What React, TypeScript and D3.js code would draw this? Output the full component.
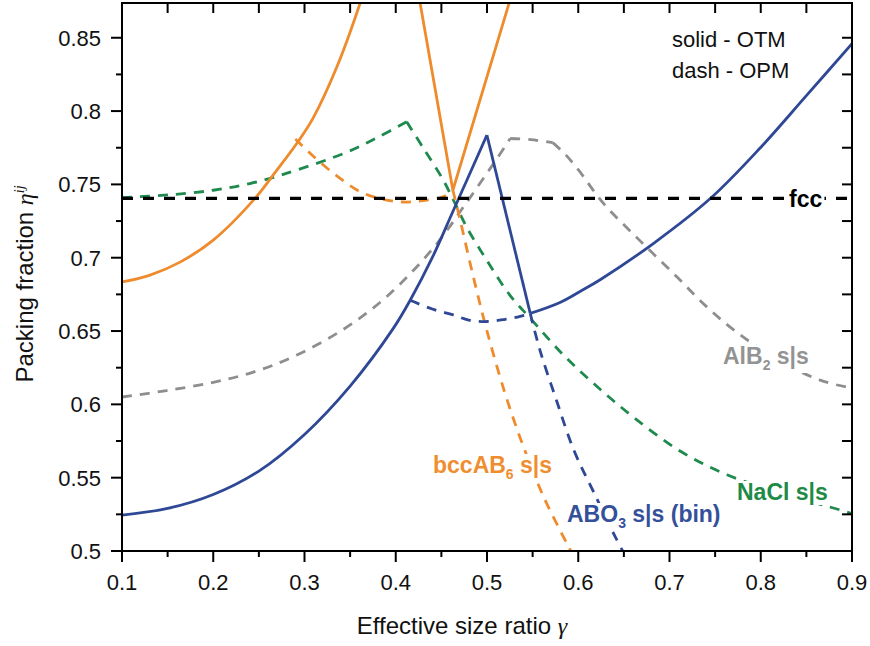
import { useEffect, useRef } from "react";
import * as d3 from "d3";

type Pt = [number, number];

const xMajor = [0.1, 0.2, 0.3, 0.4, 0.5, 0.6, 0.7, 0.8, 0.9];
const yMajor = [0.5, 0.55, 0.6, 0.65, 0.7, 0.75, 0.8, 0.85];
const fccPacking = 0.7405;

// bccAB6 s|s (orange)
const bccOtmLeft: Pt[] = [
  [0.1, 0.6835], [0.13, 0.688], [0.1636, 0.697], [0.2, 0.712],
  [0.2458, 0.7405], [0.2697, 0.7597], [0.295, 0.781], [0.3097, 0.7955],
  [0.3354, 0.83], [0.361, 0.8737], [0.37, 0.892],
];
const bccOtmCusp: Pt[] = [[0.4232, 0.886], [0.4626, 0.746], [0.5302, 0.886]];
const bccOpmLoop: Pt[] = [
  [0.29, 0.781], [0.31, 0.769], [0.335, 0.756], [0.361, 0.745], [0.385, 0.74],
  [0.408, 0.738], [0.43, 0.739], [0.452, 0.7415], [0.4626, 0.746],
];
const bccOpmTail: Pt[] = [
  [0.4626, 0.746], [0.4706, 0.7256], [0.485, 0.687], [0.5, 0.65], [0.52, 0.607],
  [0.54, 0.571], [0.562, 0.537], [0.5876, 0.505], [0.6, 0.49],
];

// NaCl s|s (green)
const naclOpmRise: Pt[] = [
  [0.1, 0.741], [0.15, 0.7428], [0.2, 0.746], [0.24, 0.7506], [0.28, 0.7575],
  [0.3465, 0.772], [0.38, 0.782], [0.412, 0.7927],
];
const naclOpmFall: Pt[] = [
  [0.412, 0.7927], [0.43, 0.775], [0.452, 0.753], [0.465, 0.737], [0.478, 0.7205],
  [0.5, 0.698], [0.525, 0.6745], [0.547, 0.659], [0.584, 0.6335], [0.62, 0.6125],
  [0.66, 0.5915], [0.712, 0.568], [0.763, 0.552], [0.82, 0.54], [0.887, 0.528], [0.9, 0.5255],
];

// AlB2 s|s (grey)
const alb2OpmRise: Pt[] = [
  [0.1, 0.605], [0.149, 0.6094], [0.2, 0.615], [0.2439, 0.622], [0.2878, 0.6325],
  [0.3427, 0.6512], [0.39, 0.6734], [0.4414, 0.7068], [0.478, 0.738], [0.511, 0.7677],
  [0.5254, 0.7813],
];
const alb2OpmTop: Pt[] = [[0.5254, 0.7813], [0.548, 0.7805], [0.572, 0.7785]];
const alb2OpmFall: Pt[] = [
  [0.572, 0.7785], [0.585, 0.771], [0.6004, 0.7597], [0.6277, 0.737], [0.667, 0.712],
  [0.708, 0.687], [0.74, 0.667], [0.774, 0.649], [0.82, 0.63], [0.865, 0.6165], [0.9, 0.611],
];

// ABO3 s|s (bin) (blue)
const abo3OtmRise: Pt[] = [
  [0.1, 0.5245], [0.15, 0.529], [0.2, 0.5385], [0.25, 0.5545], [0.3, 0.5795],
  [0.35, 0.6125], [0.3975, 0.652], [0.4158, 0.671], [0.44, 0.7], [0.463, 0.732], [0.4999, 0.7836],
];
const abo3OtmDrop: Pt[] = [[0.4999, 0.7836], [0.5474, 0.662]];
const abo3OtmRight: Pt[] = [
  [0.5474, 0.662], [0.58, 0.6695], [0.602, 0.677], [0.624, 0.685], [0.683, 0.71],
  [0.745, 0.7405], [0.7996, 0.775], [0.85, 0.8105], [0.9, 0.846],
];
const abo3OpmBowl: Pt[] = [
  [0.4158, 0.671], [0.44, 0.665], [0.463, 0.661], [0.48, 0.6575], [0.5, 0.6565],
  [0.52, 0.658], [0.5364, 0.66], [0.5474, 0.662],
];
const abo3OpmTail: Pt[] = [
  [0.5474, 0.662], [0.558, 0.637], [0.576, 0.603], [0.595, 0.569], [0.6168, 0.5403],
  [0.6406, 0.5096], [0.66, 0.487],
];

const ORANGE = "#ee8b2c";
const GREEN = "#1f8a4e";
const GREY = "#8e8e8e";
const BLUE = "#2f4896";

export default function App() {
  const svgRef = useRef<SVGSVGElement>(null);

  useEffect(() => {
    if (!svgRef.current) return;
    const svg = d3.select(svgRef.current);
    svg.selectAll("*").remove();

    const width = 870;
    const height = 646;
    const left = 122, right = 852, top = 3, bottom = 551;

    const x = d3.scaleLinear().domain([0.1, 0.9]).range([left, right]);
    const y = d3.scaleLinear().domain([0.5, 0.8737]).range([bottom, top]);

    svg.append("rect").attr("width", width).attr("height", height).style("fill", "#fff");

    svg.append("defs").append("clipPath").attr("id", "plot-clip")
      .append("rect")
      .attr("x", left).attr("y", top)
      .attr("width", right - left).attr("height", bottom - top);

    const plot = svg.append("g").attr("clip-path", "url(#plot-clip)");

    const smooth = d3.line<Pt>().x(d => x(d[0])).y(d => y(d[1])).curve(d3.curveCatmullRom.alpha(0.5));
    const straight = d3.line<Pt>().x(d => x(d[0])).y(d => y(d[1]));

    const series = [
      { data: alb2OpmRise, color: GREY, dash: true },
      { data: alb2OpmTop, color: GREY, dash: true },
      { data: alb2OpmFall, color: GREY, dash: true },
      { data: naclOpmRise, color: GREEN, dash: true },
      { data: naclOpmFall, color: GREEN, dash: true },
      { data: bccOpmLoop, color: ORANGE, dash: true },
      { data: bccOpmTail, color: ORANGE, dash: true },
      { data: abo3OpmBowl, color: BLUE, dash: true },
      { data: abo3OpmTail, color: BLUE, dash: true },
      { data: bccOtmLeft, color: ORANGE, dash: false },
      { data: bccOtmCusp, color: ORANGE, dash: false, linear: true },
      { data: abo3OtmRise, color: BLUE, dash: false },
      { data: abo3OtmDrop, color: BLUE, dash: false, linear: true },
      { data: abo3OtmRight, color: BLUE, dash: false },
    ];

    series.forEach(s => {
      plot.append("path")
        .attr("d", (s as any).linear ? straight(s.data) : smooth(s.data))
        .style("fill", "none")
        .style("stroke", s.color)
        .style("stroke-width", 2.8)
        .style("stroke-linejoin", "round")
        .style("stroke-dasharray", s.dash ? "10,8" : null);
    });

    // fcc reference line
    plot.append("line")
      .attr("x1", x(0.1)).attr("x2", x(0.9))
      .attr("y1", y(fccPacking)).attr("y2", y(fccPacking))
      .style("stroke", "#000")
      .style("stroke-width", 3.4)
      .style("stroke-dasharray", "11,10");

    // labels with white boxes
    const addLabel = (
      px: number, py: number, color: string,
      parts: { t: string; sub?: boolean }[],
    ) => {
      const g = svg.append("g");
      const txt = g.append("text")
        .attr("x", px).attr("y", py)
        .style("fill", color)
        .style("font-family", "'Liberation Sans', Arial, sans-serif")
        .style("font-size", "23px")
        .style("font-weight", "700");
      parts.forEach(p => {
        if (p.sub) {
          txt.append("tspan").attr("dy", 6).style("font-size", "14px").text(p.t);
        } else {
          txt.append("tspan").attr("y", py).text(p.t);
        }
      });
      const bb = (txt.node() as SVGTextElement).getBBox();
      g.insert("rect", "text")
        .attr("x", bb.x - 2).attr("y", bb.y + 2)
        .attr("width", bb.width + 4).attr("height", bb.height - 2)
        .style("fill", "#fff");
    };

    addLabel(789, 207, "#000", [{ t: "fcc" }]);
    addLabel(723, 364, "#939393", [{ t: "AlB" }, { t: "2", sub: true }, { t: " s|s" }]);
    addLabel(737, 500, "#1e8a47", [{ t: "NaCl s|s" }]);
    addLabel(567, 522, "#34509a", [{ t: "ABO" }, { t: "3", sub: true }, { t: " s|s (bin)" }]);
    addLabel(433, 473, "#ef8e30", [{ t: "bccAB" }, { t: "6", sub: true }, { t: " s|s" }]);

    const note = svg.append("g")
      .style("font-family", "'Liberation Sans', Arial, sans-serif")
      .style("font-size", "22px")
      .style("fill", "#111");
    note.append("text").attr("x", 672).attr("y", 47).text("solid - OTM");
    note.append("text").attr("x", 672).attr("y", 78).text("dash - OPM");

    // frame
    svg.append("rect")
      .attr("x", left).attr("y", top)
      .attr("width", right - left).attr("height", bottom - top)
      .style("fill", "none")
      .style("stroke", "#000")
      .style("stroke-width", 2);

    const axes = svg.append("g").style("stroke", "#000").style("stroke-width", 2);

    const xMinor = d3.range(0, 17).map(i => 0.1 + i * 0.05);
    xMinor.forEach((v, i) => {
      const major = i % 2 === 0;
      axes.append("line")
        .attr("x1", x(v)).attr("x2", x(v))
        .attr("y1", bottom).attr("y2", bottom + (major ? 11 : 6));
      axes.append("line")
        .attr("x1", x(v)).attr("x2", x(v))
        .attr("y1", top).attr("y2", top + 10);
    });

    const yMinor = d3.range(0, 15).map(i => 0.5 + i * 0.025);
    yMinor.forEach((v, i) => {
      const major = i % 2 === 0;
      axes.append("line")
        .attr("x1", left).attr("x2", left - (major ? 11 : 6))
        .attr("y1", y(v)).attr("y2", y(v));
      axes.append("line")
        .attr("x1", right).attr("x2", right - 10)
        .attr("y1", y(v)).attr("y2", y(v));
    });

    const tickFont = "'Liberation Sans', Arial, sans-serif";

    svg.append("g").selectAll("text")
      .data(xMajor)
      .enter()
      .append("text")
      .attr("x", d => x(d))
      .attr("y", 590)
      .attr("text-anchor", "middle")
      .style("font-family", tickFont)
      .style("font-size", "22px")
      .style("fill", "#111")
      .text(d => String(+d.toFixed(2)));

    svg.append("g").selectAll("text")
      .data(yMajor)
      .enter()
      .append("text")
      .attr("x", 101)
      .attr("y", d => y(d) + 8)
      .attr("text-anchor", "end")
      .style("font-family", tickFont)
      .style("font-size", "22px")
      .style("fill", "#111")
      .text(d => String(+d.toFixed(2)));

    // axis titles
    const xt = svg.append("text")
      .attr("x", 462).attr("y", 634)
      .attr("text-anchor", "middle")
      .style("font-family", tickFont)
      .style("font-size", "24px")
      .style("fill", "#111");
    xt.append("tspan").text("Effective size ratio ");
    xt.append("tspan")
      .style("font-family", "'Liberation Serif', 'DejaVu Serif', serif")
      .style("font-style", "italic")
      .text("γ");

    const yt = svg.append("text")
      .attr("transform", "translate(33,284) rotate(-90)")
      .attr("text-anchor", "middle")
      .style("font-family", tickFont)
      .style("font-size", "24px")
      .style("fill", "#111");
    yt.append("tspan").text("Packing fraction ");
    yt.append("tspan")
      .style("font-family", "'Liberation Serif', 'DejaVu Serif', serif")
      .style("font-style", "italic")
      .text("η");
    yt.append("tspan")
      .attr("dy", -9)
      .style("font-family", "'Liberation Serif', 'DejaVu Serif', serif")
      .style("font-style", "italic")
      .style("font-size", "14px")
      .text("ij");
  }, []);

  return (
    <svg
      ref={svgRef}
      width={870}
      height={646}
      style={{ position: "absolute", left: 0, top: 0, display: "block" }}
    />
  );
}
